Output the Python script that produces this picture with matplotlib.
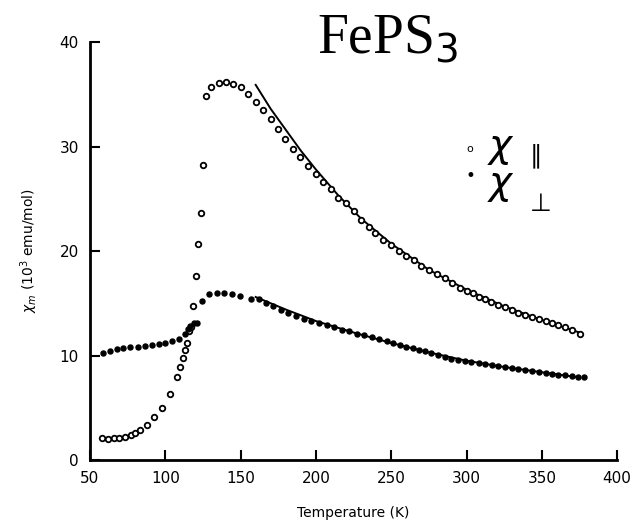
import matplotlib
matplotlib.use("Agg")
import matplotlib.pyplot as plt

# chi parallel (open circles)
t_par = [58, 62, 66, 69.5, 73, 77, 80, 83.5, 88, 92.5,
         98, 103, 108, 110, 112, 113, 114.5, 116, 117, 118.5,
         120.7, 122, 123.8, 125, 127.3, 130.4, 135.6, 140, 145, 150,
         155, 160.5, 165, 170, 175, 179.5, 184.5, 189.5, 194.5, 200,
         205, 210, 214.5, 220, 225, 230, 235, 239.5, 244.5, 250,
         255, 260, 265, 270, 275, 280.5, 285.5, 290.5, 295.5, 300,
         304.5, 308, 312, 316.5, 321, 325.5, 330, 334.5, 339, 343.5,
         348, 352.5, 356.7, 361, 365.5, 370, 375.5]
chi_par = [2.08, 2.0, 2.1, 2.1, 2.2, 2.4, 2.55, 2.9, 3.35, 4.15,
           5.0, 6.3, 7.9, 8.9, 9.8, 10.5, 11.2, 12.3, 12.7, 14.7,
           17.6, 20.7, 23.6, 28.2, 34.8, 35.7, 36.1, 36.2, 36.0, 35.7,
           35.0, 34.3, 33.5, 32.6, 31.7, 30.7, 29.8, 29.0, 28.1, 27.4,
           26.6, 25.9, 25.1, 24.6, 23.8, 23.0, 22.3, 21.7, 21.1, 20.6,
           20.0, 19.5, 19.1, 18.6, 18.2, 17.8, 17.4, 16.9, 16.5, 16.2,
           16.0, 15.6, 15.4, 15.1, 14.8, 14.6, 14.4, 14.1, 13.9, 13.7,
           13.5, 13.3, 13.1, 12.9, 12.7, 12.4, 12.1]

# chi perpendicular (filled dots)
t_perp = [58.4, 63.3, 67.8, 72.2, 76.7, 82.2, 86.7, 91.1, 95.6, 100,
          104.4, 108.9, 113.3, 115, 116.7, 118.9, 121, 124.5, 129, 134.4,
          138.9, 144.4, 149.6, 156.7, 162.2, 166.7, 171.8, 176.7, 181.5, 186.7,
          191.8, 196.7, 202.2, 207.3, 212.2, 217.3, 222.2, 227.3, 232, 237,
          242, 247, 251, 256, 260, 264.4, 268.5, 272.5, 276.7, 281,
          285.5, 290, 294.5, 299, 303, 308, 312.5, 316.7, 321, 325.5,
          330, 334.5, 339, 343.3, 348, 352.5, 356.7, 361, 365.5, 370,
          374, 377.8]
chi_perp = [10.2, 10.4, 10.6, 10.7, 10.8, 10.85, 10.9, 11.0, 11.1, 11.2,
            11.4, 11.6, 12.1, 12.5, 12.8, 13.1, 13.1, 15.2, 15.9, 16.0,
            16.0, 15.9, 15.7, 15.4, 15.4, 15.0, 14.7, 14.4, 14.1, 13.8,
            13.5, 13.3, 13.1, 12.9, 12.7, 12.4, 12.3, 12.1, 11.95, 11.8,
            11.6, 11.4, 11.2, 11.0, 10.85, 10.7, 10.55, 10.4, 10.2, 10.05,
            9.9, 9.7, 9.6, 9.5, 9.4, 9.25, 9.15, 9.1, 9.0, 8.9,
            8.8, 8.7, 8.6, 8.5, 8.4, 8.3, 8.2, 8.15, 8.1, 8.0,
            7.95, 7.9]

# fitted curves
fit_t_par = [160, 170, 180, 190, 200, 215, 230, 250, 275, 300, 325, 350, 375]
fit_par = [35.9, 33.6, 31.6, 29.6, 27.8, 25.3, 23.1, 20.7, 18.2, 16.3, 14.7, 13.4, 12.2]
fit_t_perp = [160, 180, 200, 225, 250, 275, 300, 325, 350, 375]
fit_perp = [15.6, 14.4, 13.3, 12.2, 11.2, 10.3, 9.5, 8.9, 8.4, 7.9]

fig = plt.figure(figsize=(6.31, 5.29), dpi=100)
ax = fig.add_axes([0.1426, 0.1304, 0.8354, 0.7902])

ax.plot(fit_t_par, fit_par, color="black", lw=1.4)
ax.plot(fit_t_perp, fit_perp, color="black", lw=1.4)
ax.plot(t_par, chi_par, "o", ms=4, mfc="white", mec="black", mew=1.3)
ax.plot(t_perp, chi_perp, "o", ms=3.6, color="black")

ax.set_xlim(50, 400)
ax.set_ylim(0, 40)
ax.set_xticks([50, 100, 150, 200, 250, 300, 350, 400])
ax.set_yticks([0, 10, 20, 30, 40])
for s in ["top", "right"]:
    ax.spines[s].set_visible(False)
for s in ["left", "bottom"]:
    ax.spines[s].set_linewidth(2)
ax.tick_params(direction="in", length=7, width=1.5, labelsize=11, pad=8)

ax.set_xlabel("Temperature (K)", fontsize=10, labelpad=14)
ax.set_ylabel(r"$\chi_m$ (10$^3$ emu/mol)", fontsize=10, labelpad=14)

fig.text(0.615, 0.925, r"FePS$_3$", family="Liberation Serif",
         fontsize=40, ha="center", va="center")

# hand-drawn style legend
fig.text(0.745, 0.718, "o", fontsize=8, ha="center", va="center")
fig.text(0.772, 0.72, r"$\chi$", fontsize=28, va="center")
fig.text(0.84, 0.705, "∥", fontsize=18, va="center")
fig.text(0.745, 0.667, "•", fontsize=12, ha="center", va="center")
fig.text(0.772, 0.65, r"$\chi$", fontsize=28, va="center")
fig.text(0.84, 0.615, "⊥", fontsize=18, va="center")

fig.savefig("out.png", dpi=100)
